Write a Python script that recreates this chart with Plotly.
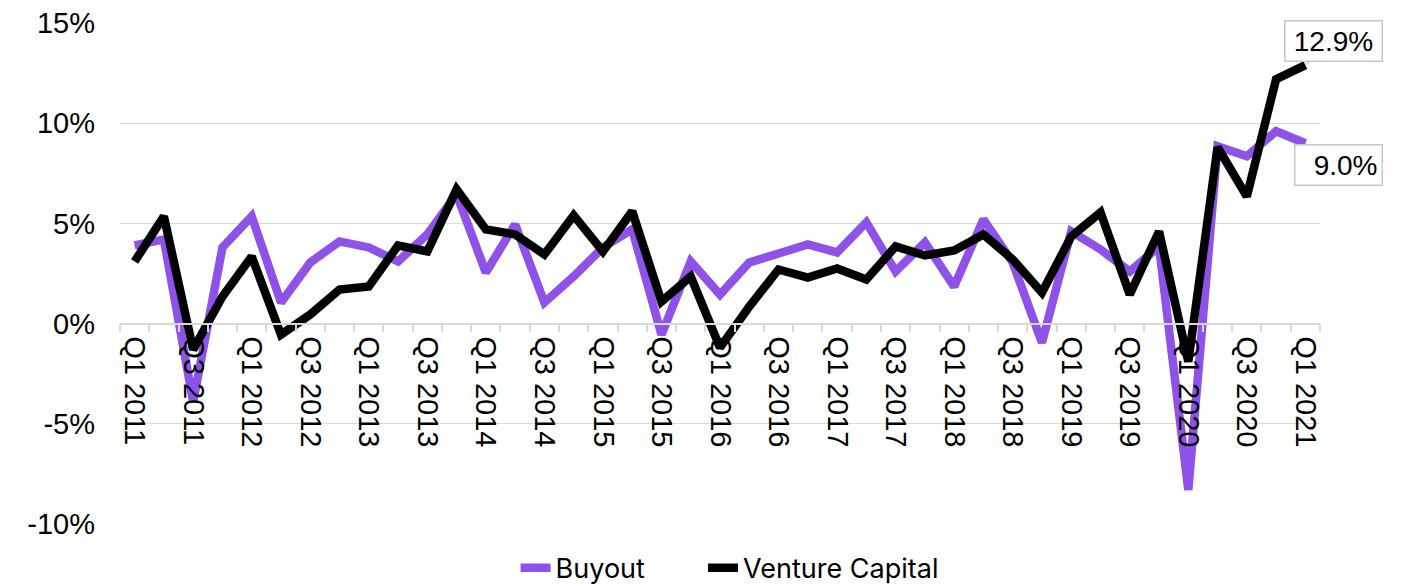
import plotly.graph_objects as go

quarters = [f"Q{q} {y}" for y in range(2011, 2022) for q in (1, 2, 3, 4)][:41]

buyout = [3.9, 4.2, -3.9, 3.8, 5.35, 1.05, 3.05, 4.1, 3.8, 3.1, 4.45, 6.45, 2.55, 4.95,
          1.05, 2.35, 3.8, 4.7, -0.55, 3.1, 1.45, 3.05, 3.5, 3.95, 3.55, 5.05, 2.6, 4.05,
          1.85, 5.2, 3.05, -0.95, 4.6, 3.7, 2.6, 3.85, -8.3, 8.85, 8.35, 9.6, 9.0]

venture = [3.1, 5.35, -1.3, 1.35, 3.35, -0.55, 0.45, 1.7, 1.85, 3.9, 3.6, 6.7, 4.7, 4.45,
           3.45, 5.4, 3.6, 5.6, 1.1, 2.35, -1.2, 0.85, 2.7, 2.3, 2.75, 2.2, 3.85, 3.4,
           3.65, 4.45, 3.2, 1.55, 4.35, 5.55, 1.45, 4.6, -1.9, 8.8, 6.35, 12.2, 12.9]

series_names = ["Buyout", "Venture Capital"]
tick_labels = [q if i % 2 == 0 else "" for i, q in enumerate(quarters)]
y_ticks = [-10, -5, 0, 5, 10, 15]
y_tick_text = ["-10%", "-5%", "0%", "5%", "10%", "15%"]

FONT = "Liberation Sans, Arial, sans-serif"
LEG_FONT = "Inter, Roboto, sans-serif"
GRID = "#d9d9d9"
PURPLE = "#8f52e9"

fig = go.Figure()
fig.add_trace(go.Scatter(x=quarters, y=buyout, mode="lines",
                         name=series_names[0] + "\u00a0" * 7,
                         line=dict(color=PURPLE, width=8.5), hoverinfo="x+y"))
fig.add_trace(go.Scatter(x=quarters, y=venture, mode="lines", name=series_names[1],
                         line=dict(color="#000000", width=8.5), hoverinfo="x+y"))

fig.add_annotation(x=quarters[-1], y=venture[-1], text=f"{venture[-1]:.1f}%",
                   showarrow=True, arrowhead=0, arrowcolor="#c8c8c8", arrowwidth=1.2,
                   ax=28, ay=-24, bgcolor="white", bordercolor="#c8c8c8", borderwidth=1.5,
                   borderpad=4, width=88, font=dict(family=FONT, size=28, color="#000"))
fig.add_annotation(x=quarters[-1], y=buyout[-1], text=f"{buyout[-1]:.1f}%",
                   showarrow=True, arrowhead=0, arrowcolor="#c8c8c8", arrowwidth=1.2,
                   ax=33, ay=22, bgcolor="white", bordercolor="#c8c8c8", borderwidth=1.5,
                   borderpad=4, width=78, align="right",
                   font=dict(family=FONT, size=28, color="#000"))

fig.update_layout(
    width=1408, height=585,
    margin=dict(l=120, r=88, t=23, b=61, autoexpand=False),
    paper_bgcolor="white", plot_bgcolor="white",
    font=dict(family=FONT, size=28, color="#000"),
    showlegend=True,
    legend=dict(orientation="h", x=0.508, xanchor="center", y=-0.088, yanchor="middle",
                font=dict(family=LEG_FONT, size=27, color="#000"),
                tracegroupgap=0, bgcolor="rgba(0,0,0,0)"),
    xaxis=dict(type="category", anchor="free", position=0.4, range=[-0.5, 40.5],
               tickmode="array", tickvals=quarters, ticktext=tick_labels,
               tickangle=90, tickson="boundaries", ticks="outside", ticklen=8,
               tickcolor=GRID, tickwidth=1.5, showline=True, linecolor=GRID, linewidth=1.5,
               ticklabelstandoff=6,
               showgrid=False, zeroline=False, automargin=False,
               tickfont=dict(family=FONT, size=29, color="#000")),
    yaxis=dict(range=[-10, 15], tickmode="array", tickvals=y_ticks, ticktext=y_tick_text,
               showgrid=True, gridcolor=GRID, gridwidth=1, zeroline=False,
               showline=False, ticks="", ticklabelstandoff=24, automargin=False,
               tickfont=dict(family=FONT, size=29, color="#000")),
)

fig.write_html("out.html", config={"displayModeBar": False},
               post_script="document.body.style.margin='0';")
